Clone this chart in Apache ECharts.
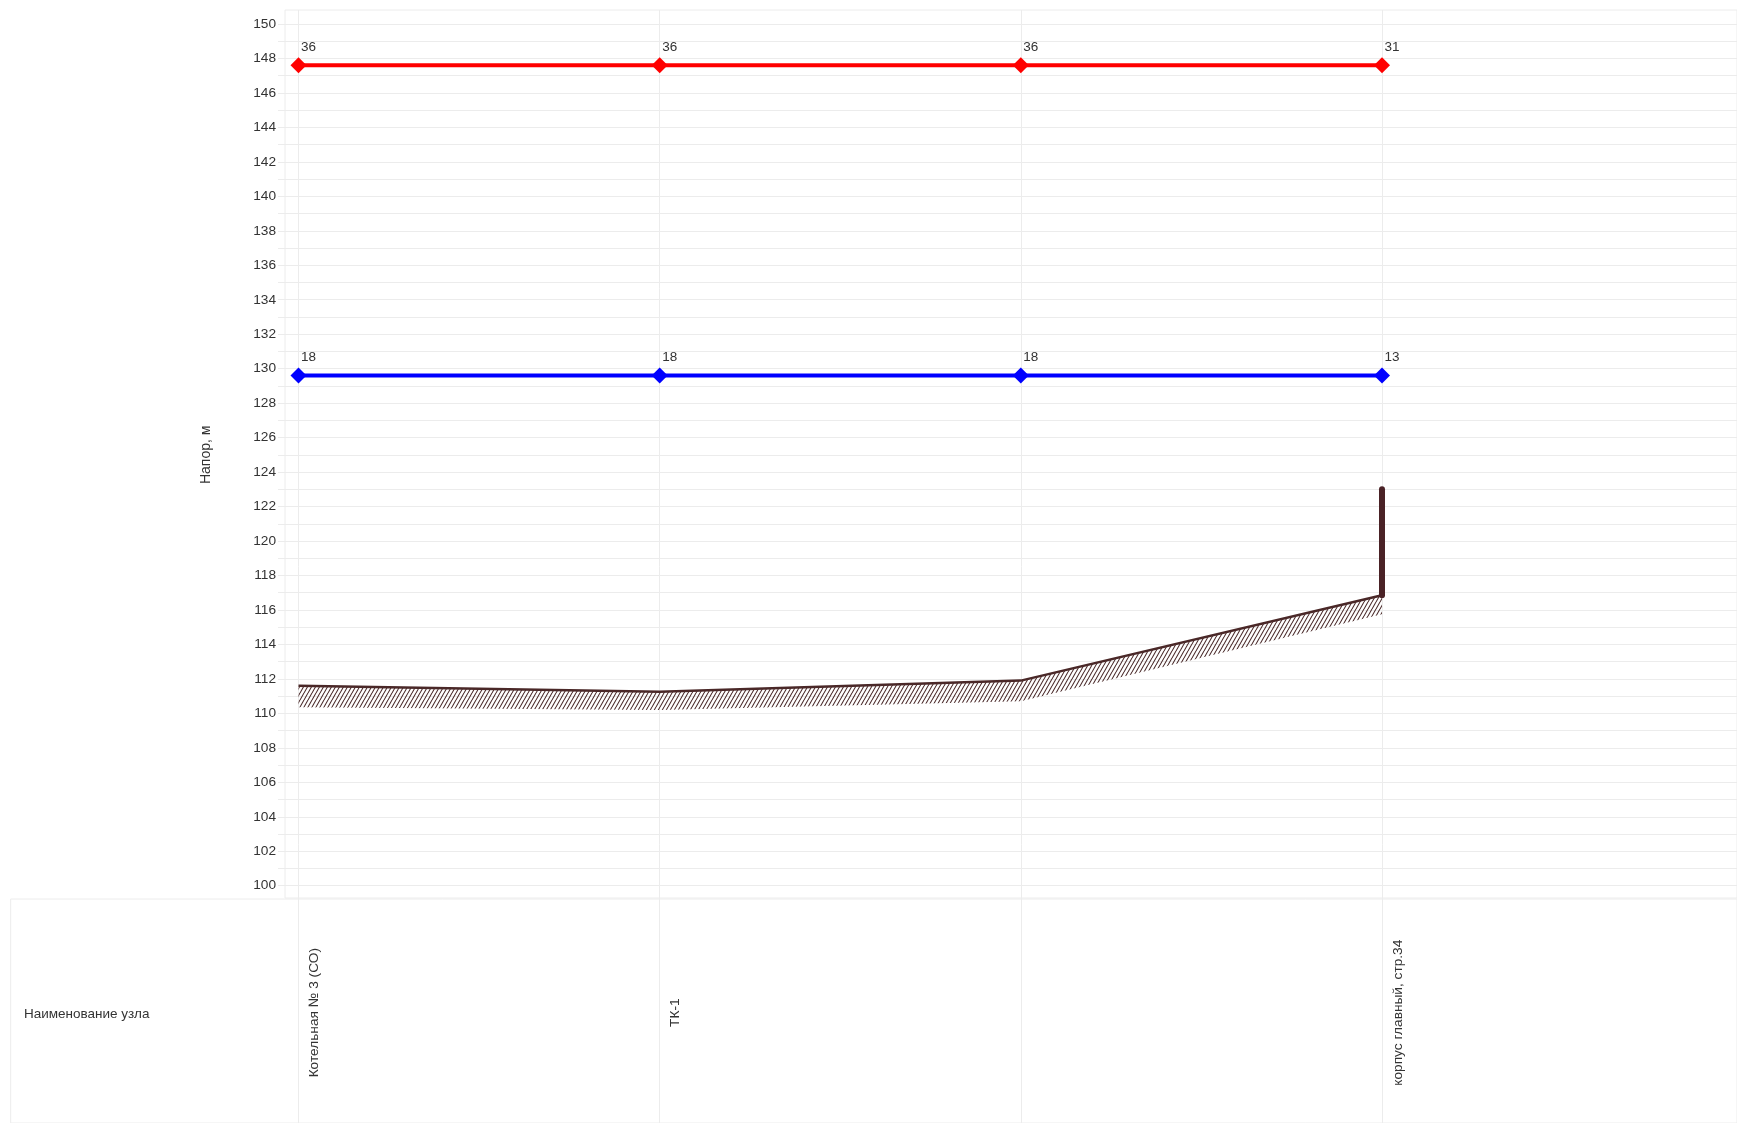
<!DOCTYPE html>
<html><head><meta charset="utf-8">
<script src="https://cdn.jsdelivr.net/npm/echarts@6/dist/echarts.min.js"></script>
<style>html,body{margin:0;padding:0;background:#fff}#c{width:1737px;height:1123px}</style>
</head><body><div id="c"></div>
<script>
// ---- data ----
const nodeNames = ['Котельная № 3 (СО)', 'ТК-1', '', 'корпус главный, стр.34'];
const supplyHead = [147.6, 147.6, 147.6, 147.6];
const returnHead = [129.6, 129.6, 129.6, 129.6];
const supplyPressure = [36, 36, 36, 31];
const returnPressure = [18, 18, 18, 13];
const groundLevel = [111.6, 111.25, 111.9, 116.85];
const groundHatchBottom = [110.35, 110.2, 110.7, 115.75];
const buildingNodeIndex = 3;
const buildingLevels = [116.85, 123.0];
const yMin = 100, yMax = 150, yStep = 1, yLabelStep = 2;
const yAxisName = 'Напор, м';
const tableHeader = 'Наименование узла';

// ---- styling ----
const FONT = '"Liberation Sans", Arial, sans-serif';
const GRID_C = '#ececec';
const TEXT_C = '#333';

const pc = document.createElement('canvas');
pc.width = 4; pc.height = 7;
const g = pc.getContext('2d');
g.strokeStyle = '#4e2f2f'; g.lineWidth = 1.1;
g.beginPath();
g.moveTo(0, 7); g.lineTo(4, 0);
g.moveTo(-4, 7); g.lineTo(0, 0);
g.moveTo(4, 7); g.lineTo(8, 0);
g.stroke();

const chart = echarts.init(document.getElementById('c'), null, {renderer: 'canvas'});

const dataGrid = {left: 298.5, right: 355, top: 24, bottom: 237.3};
const hiddenX = (gi) => ({type: 'value', gridIndex: gi, show: false, min: 0, max: 1});
const hiddenY = (gi) => ({type: 'value', gridIndex: gi, show: false, min: 0, max: 1});

const option = {
  backgroundColor: '#fff',
  animation: false,
  textStyle: {fontFamily: FONT},
  grid: [
    {left: 285, right: -1, top: 10, bottom: 225, show: true, borderColor: GRID_C, borderWidth: 1},   // plot frame
    {left: 10.7, right: -1, top: 899, bottom: -1, show: true, borderColor: GRID_C, borderWidth: 1},  // table
    {left: 285, right: 0, top: 24, bottom: 237.3},                                                   // y grid
    {left: dataGrid.left, right: dataGrid.right, top: 10, bottom: 0},                                // vertical lines
    dataGrid                                                                                         // data
  ],
  xAxis: [
    hiddenX(0), hiddenX(1), hiddenX(2),
    {type: 'category', gridIndex: 3, data: nodeNames, boundaryGap: false,
     axisLine: {show: false}, axisTick: {show: false}, axisLabel: {show: false},
     splitLine: {show: true, lineStyle: {color: GRID_C, width: 1}}},
    {type: 'category', gridIndex: 4, data: nodeNames, boundaryGap: false,
     axisLine: {show: false}, axisTick: {show: false}, splitLine: {show: false},
     axisLabel: {show: true, interval: 0, rotate: 90, align: 'center', verticalAlign: 'top',
                 lineHeight: 32, margin: 127, fontSize: 13.7, color: TEXT_C, fontFamily: FONT}}
  ],
  yAxis: [
    hiddenY(0), hiddenY(1),
    {type: 'value', gridIndex: 2, min: yMin, max: yMax, interval: yStep,
     name: yAxisName, nameLocation: 'middle', nameGap: 72,
     nameTextStyle: {fontSize: 14, color: TEXT_C, fontFamily: FONT},
     axisLine: {show: false},
     axisTick: {show: true, length: 7, lineStyle: {color: GRID_C}},
     splitLine: {show: true, lineStyle: {color: GRID_C, width: 1}},
     axisLabel: {margin: 9, fontSize: 13.7, color: TEXT_C, fontFamily: FONT,
                 formatter: v => ((v - yMin) % yLabelStep === 0 ? String(v) : '')}},
    hiddenY(3),
    {type: 'value', gridIndex: 4, min: yMin, max: yMax, show: false}
  ],
  series: [
    {type: 'line', xAxisIndex: 4, yAxisIndex: 4, stack: 'ground', data: groundHatchBottom,
     symbol: 'none', silent: true, lineStyle: {opacity: 0}, z: 3},
    {type: 'line', xAxisIndex: 4, yAxisIndex: 4, stack: 'ground',
     data: groundLevel.map((v, i) => +(v - groundHatchBottom[i]).toFixed(3)),
     symbol: 'none', silent: true,
     lineStyle: {color: '#4a2828', width: 2.5},
     areaStyle: {color: {image: pc, repeat: 'repeat'}, opacity: 1}, z: 3},
    {type: 'line', xAxisIndex: 4, yAxisIndex: 4,
     data: buildingLevels.map(v => [buildingNodeIndex, v]),
     symbol: 'none', silent: true,
     lineStyle: {color: '#4a2226', width: 6, cap: 'round'}, z: 4},
    {type: 'line', xAxisIndex: 4, yAxisIndex: 4, data: returnHead,
     symbol: 'diamond', symbolSize: 16,
     lineStyle: {color: '#0000ff', width: 4}, itemStyle: {color: '#0000ff'},
     label: {show: true, position: 'top', distance: 3, offset: [10, 0], fontSize: 13.5, color: TEXT_C,
             fontFamily: FONT, formatter: p => String(returnPressure[p.dataIndex])}, z: 5},
    {type: 'line', xAxisIndex: 4, yAxisIndex: 4, data: supplyHead,
     symbol: 'diamond', symbolSize: 16,
     lineStyle: {color: '#ff0000', width: 4}, itemStyle: {color: '#ff0000'},
     label: {show: true, position: 'top', distance: 3, offset: [10, 0], fontSize: 13.5, color: TEXT_C,
             fontFamily: FONT, formatter: p => String(supplyPressure[p.dataIndex])}, z: 5}
  ],
  graphic: [
    {type: 'text', left: 24, top: 1007,
     style: {text: tableHeader, fontSize: 13.5, fill: TEXT_C, font: '13.5px ' + FONT}}
  ]
};
chart.setOption(option);
</script>
</body></html>
